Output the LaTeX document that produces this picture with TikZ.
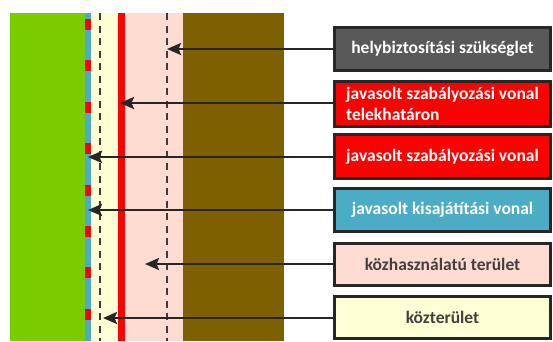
\documentclass[tikz,border=0pt]{standalone}
\usepackage{fontspec}
\setmainfont{Carlito}
\usetikzlibrary{arrows.meta,shadows}
\definecolor{cgreen}{HTML}{7ACC00}
\definecolor{cblue}{HTML}{4BACC6}
\definecolor{cyellow}{HTML}{FFFFD5}
\definecolor{cpink}{HTML}{FFDCD2}
\definecolor{cbrown}{HTML}{7F6000}
\definecolor{cgray}{HTML}{595959}
\definecolor{cred}{HTML}{FF0000}
\definecolor{cdark}{HTML}{404040}
\definecolor{cline}{HTML}{262626}
\tikzset{
  legbox/.style={draw=cline, line width=2.6pt, minimum width=216.5pt, inner sep=1pt, outer sep=0pt,
    font=\fontsize{17.5}{21}\selectfont\bfseries, align=center,
    drop shadow={shadow xshift=1.2pt, shadow yshift=-1.2pt, fill=black!30, opacity=0.6}},
  wtext/.style={text=white},
  dtext/.style={text=cdark},
  arr/.style={draw=cline, line width=2.6pt, -{Stealth[length=14pt,width=12pt,inset=2.5pt]}},
  dline/.style={draw=cline!90, line width=2.8pt, dash pattern=on 7pt off 5.5pt},
}
\begin{document}
\begin{tikzpicture}[x=1pt,y=-1pt]
\useasboundingbox (0,0) rectangle (553,341);
% strips
\fill[cgreen] (10,13) rectangle (85,341);
\fill[cblue] (85,13) rectangle (91,341);
\fill[cyellow] (91,13) rectangle (118,341);
\fill[cred] (118,13) rectangle (125,341);
\fill[cpink] (125,13) rectangle (183,341);
\fill[cbrown] (183,13) rectangle (284,341);
\foreach \k in {0,...,7} {
  \fill[cred] (85,{19+41.4*\k}) rectangle (91,{30+41.4*\k});
}
\draw[dline] (100,13) -- (100,341);
\draw[dline] (167,13) -- (167,341);
% boxes
\node[legbox, fill=cgray, wtext, minimum height=43.5pt] (b1) at (442.5,49) {helybiztosítási szükséglet};
\node[legbox, fill=cred, wtext, minimum height=45.5pt, align=left] (b2) at (442.5,104) {javasolt szabályozási vonal\\telekhatáron};
\node[legbox, fill=cred, wtext, minimum height=44.5pt] (b3) at (442.5,156.5) {javasolt szabályozási vonal};
\node[legbox, fill=cblue, wtext, minimum height=43.5pt] (b4) at (442.5,210) {javasolt kisajátítási vonal};
\node[legbox, fill=cpink, dtext, minimum height=42.5pt] (b5) at (442.5,264.5) {közhasználatú terület};
\node[legbox, fill=cyellow, dtext, minimum height=42.5pt] (b6) at (442.5,317.5) {közterület};
% targets
\coordinate (t1) at (167,49);
\coordinate (t2) at (120,103);
\coordinate (t3) at (88,157);
\coordinate (t4) at (88,210);
\coordinate (t5) at (145,264);
\coordinate (t6) at (103,318);
\draw[arr] (b1.west |- t1) -- (t1);
\draw[arr] (b2.west |- t2) -- (t2);
\draw[arr] (b3.west |- t3) -- (t3);
\draw[arr] (b4.west |- t4) -- (t4);
\draw[arr] (b5.west |- t5) -- (t5);
\draw[arr] (b6.west |- t6) -- (t6);
\end{tikzpicture}
\end{document}
